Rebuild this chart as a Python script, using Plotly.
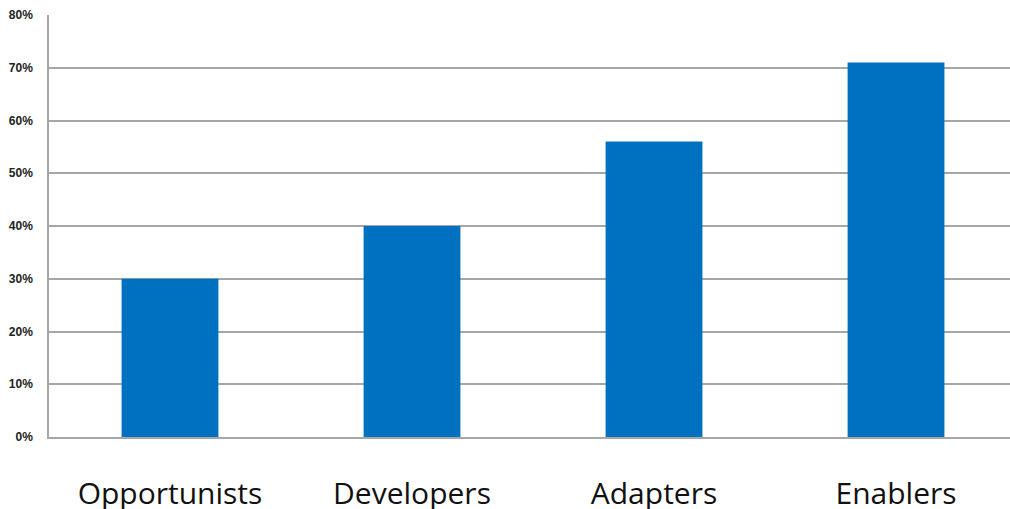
import plotly.graph_objects as go

categories = ["Opportunists", "Developers", "Adapters", "Enablers"]
values = [0.30, 0.40, 0.56, 0.71]
y_ticks = [0, 0.1, 0.2, 0.3, 0.4, 0.5, 0.6, 0.7, 0.8]
y_tick_labels = ["0%", "10%", "20%", "30%", "40%", "50%", "60%", "70%", "80%"]

fig = go.Figure(go.Bar(
    x=categories, y=values, width=0.4,
    marker=dict(color="#0070C0", line=dict(width=0)),
))

fig.update_layout(
    width=1010, height=509,
    margin=dict(l=49, r=0, t=15, b=72, autoexpand=False),
    paper_bgcolor="white", plot_bgcolor="white",
    showlegend=False,
)
fig.update_xaxes(
    range=[-0.5, 3.471], automargin=False,
    showline=True, linecolor="#a6a6a6", linewidth=1.5,
    showgrid=False, ticks="",
    tickfont=dict(family="Open Sans", size=30, color="#111"),
    ticklabelstandoff=29,
)
fig.update_yaxes(
    range=[0, 0.8], tickvals=y_ticks, ticktext=y_tick_labels, automargin=False,
    showgrid=True, gridcolor="#a6a6a6", gridwidth=1.5,
    showline=True, linecolor="#a6a6a6", linewidth=1.5,
    zeroline=False, ticks="",
    tickfont=dict(family="Liberation Sans", size=12, color="#222", weight="bold"),
    ticklabelstandoff=12,
)

fig.write_html(
    "out.html",
    config={"displayModeBar": False},
    post_script="document.body.style.margin='0';document.body.style.overflow='hidden';",
)
